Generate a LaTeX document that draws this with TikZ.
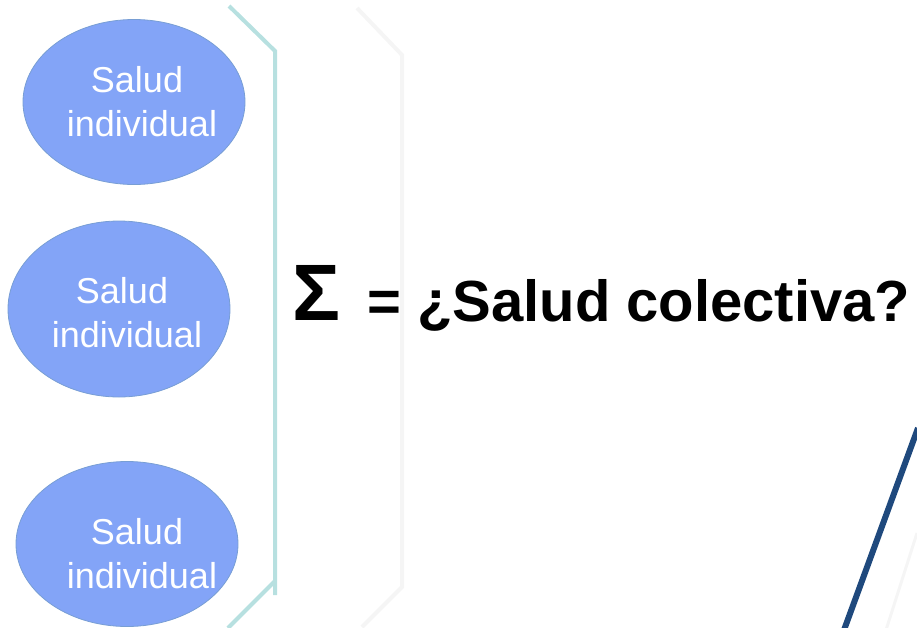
\documentclass[tikz,border=0pt]{standalone}
\usepackage{fontspec}
\setmainfont{Liberation Sans}
\usepackage{tikz}
\usetikzlibrary{shapes.geometric, positioning}
\definecolor{saludblue}{RGB}{131, 164, 247}
\definecolor{saludedge}{RGB}{120, 158, 212}
\definecolor{bracketteal}{RGB}{183, 224, 224}
\definecolor{shadowgray}{RGB}{245, 245, 245}
\definecolor{slashblue}{RGB}{31, 73, 125}

\begin{document}
\begin{tikzpicture}[x=1pt, y=-1pt,
    salud/.style={ellipse, draw=saludedge, line width=0.8pt, fill=saludblue,
                  minimum width=222pt, minimum height=165pt, inner sep=0pt},
    saludtext/.style={font=\fontsize{36}{44}\selectfont, text=white, align=center, inner sep=0pt},
    bigtext/.style={font=\fontsize{58}{64}\selectfont\bfseries, inner sep=0pt, anchor=base west}
]
\useasboundingbox (0,0) rectangle (917,627);

% Faint brackets and slash
\draw[shadowgray, line width=4pt] (357,8) -- (402,55) -- (402,587) -- (362,627);
\draw[shadowgray, line width=3pt] (917,533) -- (886,630);

% Bracket
\draw[bracketteal, line width=4pt] (229,6) -- (275,51) -- (275,595);
\draw[bracketteal, line width=4pt] (275,581) -- (228,628);

% Salud 1
\node[salud] (s1) at (134,102) {};
\node[saludtext] (t1) at (142,102) {Salud\kern10pt\\individual};

% Salud 2
\node[salud, minimum height=176pt] (s2) at (119,309) {};
\node[saludtext] (t2) at (127,313) {Salud\kern10pt\\individual};

% Salud 3
\node[salud] (s3) at (127,544) {};
\node[saludtext] (t3) at (142,554) {Salud\kern10pt\\individual};

% Sum
\node[font=\fontsize{80}{80}\selectfont\bfseries, inner sep=0pt, anchor=base] (sigma) at (316,320) {Σ};
\node[bigtext] (colectiva) at (367,321) {= ¿Salud colectiva?};

% Slash
\draw[slashblue, line width=6pt] (918,428) -- (844,630);

\end{tikzpicture}
\end{document}
